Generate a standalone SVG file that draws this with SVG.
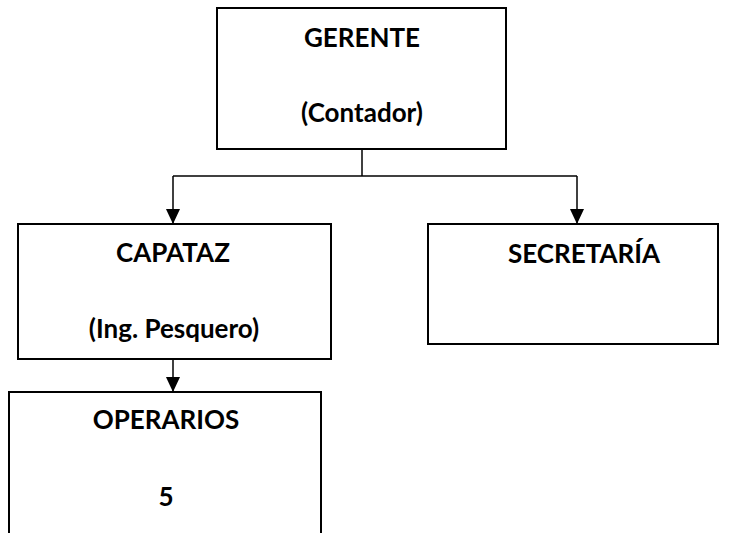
<svg xmlns="http://www.w3.org/2000/svg" width="733" height="533" viewBox="0 0 733 533">
<style>
.box{fill:#fff;stroke:#000;stroke-width:2}
.t{font-family:Lato,"Open Sans","Liberation Sans",sans-serif;font-weight:bold;font-size:26px;fill:#000;text-anchor:middle}
.c{fill:none;stroke:#000;stroke-width:1.5}
</style>
<defs>
<marker id="ah2" viewBox="0 0 15 16" refX="15" refY="7.5" markerWidth="16" markerHeight="15" markerUnits="userSpaceOnUse" orient="auto">
<path d="M0,0 L16,7.5 L0,15 Z" fill="#000"/>
</marker>
</defs>
<g id="connectors">
<path class="c" d="M362,149 V176"/>
<path class="c" d="M173,176 H577"/>
<path class="c" d="M173,176 V223" marker-end="url(#ah2)"/>
<path class="c" d="M577,176 V223" marker-end="url(#ah2)"/>
<path class="c" d="M173,359 V391" marker-end="url(#ah2)"/>
</g>
<g id="gerente">
<rect class="box" x="217" y="8" width="289" height="141"/>
<text class="t" x="362" y="47">GERENTE</text>
<text class="t" x="362" y="122">(Contador)</text>
</g>
<g id="capataz">
<rect class="box" x="18" y="224" width="313" height="135"/>
<text class="t" x="173" y="262">CAPATAZ</text>
<text class="t" x="174" y="338">(Ing. Pesquero)</text>
</g>
<g id="secretaria">
<rect class="box" x="428" y="224" width="290" height="120"/>
<text class="t" x="584" y="263">SECRETARÍA</text>
</g>
<g id="operarios">
<rect class="box" x="9" y="392" width="312" height="150"/>
<text class="t" x="166" y="429">OPERARIOS</text>
<text class="t" x="166" y="506">5</text>
</g>
</svg>
